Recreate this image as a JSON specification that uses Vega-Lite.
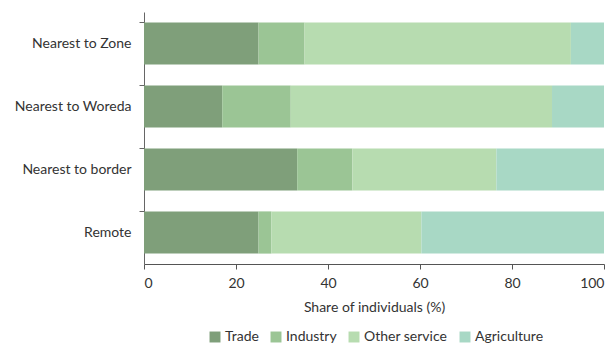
{
  "$schema": "https://vega.github.io/schema/vega-lite/v6.json",
  "width": 460,
  "height": 252,
  "autosize": {"type": "none"},
  "padding": {"left": 144, "top": 12, "right": 11, "bottom": 87},
  "config": {
    "font": "Lato",
    "view": {"stroke": null},
    "axis": {"labelFont": "Lato", "titleFont": "Lato", "labelFontSize": 14, "titleFontSize": 14, "labelColor": "#333", "titleColor": "#333", "domainColor": "#555", "tickColor": "#555", "titleFontWeight": "normal"}
  },
  "data": {
    "values": [
      {"loc": "Nearest to Zone", "sector": "Trade", "order": 1, "share": 24.9},
      {"loc": "Nearest to Zone", "sector": "Industry", "order": 2, "share": 10.0},
      {"loc": "Nearest to Zone", "sector": "Other service", "order": 3, "share": 57.9},
      {"loc": "Nearest to Zone", "sector": "Agriculture", "order": 4, "share": 7.2},
      {"loc": "Nearest to Woreda", "sector": "Trade", "order": 1, "share": 17.0},
      {"loc": "Nearest to Woreda", "sector": "Industry", "order": 2, "share": 14.9},
      {"loc": "Nearest to Woreda", "sector": "Other service", "order": 3, "share": 56.8},
      {"loc": "Nearest to Woreda", "sector": "Agriculture", "order": 4, "share": 11.3},
      {"loc": "Nearest to border", "sector": "Trade", "order": 1, "share": 33.3},
      {"loc": "Nearest to border", "sector": "Industry", "order": 2, "share": 12.0},
      {"loc": "Nearest to border", "sector": "Other service", "order": 3, "share": 31.3},
      {"loc": "Nearest to border", "sector": "Agriculture", "order": 4, "share": 23.4},
      {"loc": "Remote", "sector": "Trade", "order": 1, "share": 24.9},
      {"loc": "Remote", "sector": "Industry", "order": 2, "share": 2.8},
      {"loc": "Remote", "sector": "Other service", "order": 3, "share": 32.6},
      {"loc": "Remote", "sector": "Agriculture", "order": 4, "share": 39.7}
    ]
  },
  "mark": {"type": "bar"},
  "encoding": {
    "y": {
      "field": "loc", "type": "nominal",
      "sort": ["Nearest to Zone", "Nearest to Woreda", "Nearest to border", "Remote"],
      "scale": {"paddingInner": 0.33, "paddingOuter": 0.165},
      "axis": {"title": null, "bandPosition": 0, "tickSize": 5, "labelPadding": 8, "domainColor": "#666", "tickColor": "#666"}
    },
    "x": {
      "field": "share", "type": "quantitative", "stack": "zero",
      "scale": {"domain": [0, 100], "nice": false},
      "axis": {"title": "Share of individuals (%)", "grid": false, "values": [0, 20, 40, 60, 80, 100], "labelOverlap": false, "labelBound": false, "titlePadding": 10, "labelPadding": 7}
    },
    "color": {
      "field": "sector", "type": "nominal",
      "sort": ["Trade", "Industry", "Other service", "Agriculture"],
      "scale": {"domain": ["Trade", "Industry", "Other service", "Agriculture"], "range": ["#7f9f7a", "#9bc595", "#b7dcb0", "#a8d8c5"]},
      "legend": {"title": null, "orient": "none", "legendX": 64, "legendY": 318, "direction": "horizontal", "symbolType": "square", "symbolSize": 120, "symbolStrokeWidth": 0, "labelFontSize": 14, "labelFont": "Lato", "labelColor": "#333", "columnPadding": 10, "labelOffset": 3}
    },
    "order": {"field": "order", "type": "quantitative"}
  }
}
